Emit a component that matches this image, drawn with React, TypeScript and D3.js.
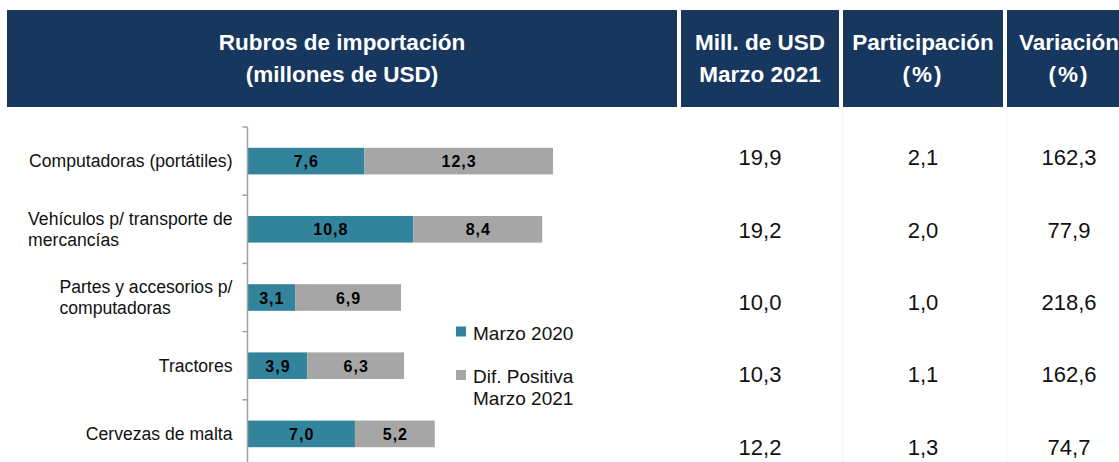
import React, { useEffect, useRef } from "react";
import * as d3 from "d3";

const categories: string[][] = [
  ["Computadoras (portátiles)"],
  ["Vehículos p/ transporte de", "mercancías"],
  ["Partes y accesorios p/", "computadoras"],
  ["Tractores"],
  ["Cervezas de malta"],
];
const marzo2020 = [7.6, 10.8, 3.1, 3.9, 7.0];
const difPositiva = [12.3, 8.4, 6.9, 6.3, 5.2];
const millUSD = [19.9, 19.2, 10.0, 10.3, 12.2];
const participacion = [2.1, 2.0, 1.0, 1.1, 1.3];
const variacion = [162.3, 77.9, 218.6, 162.6, 74.7];

const seriesNames = ["Marzo 2020", "Dif. Positiva\nMarzo 2021"];
const headerMain = ["Rubros de importación", "(millones de USD)"];
const headerCols = [
  ["Mill. de USD", "Marzo 2021"],
  ["Participación", "(%)"],
  ["Variación", "(%)"],
];

const W = 1119;
const H = 462;
const FONT = "'Liberation Sans', Arial, Helvetica, sans-serif";
const NAVY = "#17375E";
const TEAL = "#31849B";
const GRAY = "#A6A6A6";

export default function App() {
  const ref = useRef<SVGSVGElement | null>(null);

  useEffect(() => {
    const svg = d3.select(ref.current);
    svg.selectAll("*").remove();

    const locale = d3.formatLocale({
      decimal: ",",
      thousands: ".",
      grouping: [3],
      currency: ["", ""],
    });
    const fmt = locale.format(".1f");

    // ---------- header ----------
    const headerTop = 10;
    const headerBottom = 107;
    const colEdges = [7, 677, 681, 839, 843, 1003, 1007, 1131];
    const blocks = [
      { x0: colEdges[0], x1: colEdges[1], lines: headerMain },
      { x0: colEdges[2], x1: colEdges[3], lines: headerCols[0] },
      { x0: colEdges[4], x1: colEdges[5], lines: headerCols[1] },
      { x0: colEdges[6], x1: colEdges[7], lines: headerCols[2] },
    ];
    const hdr = svg.append("g");
    blocks.forEach((b) => {
      hdr
        .append("rect")
        .attr("x", b.x0)
        .attr("y", headerTop)
        .attr("width", b.x1 - b.x0)
        .attr("height", headerBottom - headerTop)
        .attr("fill", NAVY);
      b.lines.forEach((ln, i) => {
        hdr
          .append("text")
          .attr("x", (b.x0 + b.x1) / 2)
          .attr("y", 50 + i * 32)
          .attr("text-anchor", "middle")
          .attr("fill", "#ffffff")
          .attr("font-family", FONT)
          .attr("font-weight", "bold")
          .attr("font-size", 22.5)
          .attr("letter-spacing", ln === "(%)" ? 2 : 0)
          .text(ln);
      });
    });

    // ---------- table values ----------
    const rowScale = d3
      .scaleBand<number>()
      .domain(d3.range(categories.length))
      .range([121, 483]);
    const colCenters = [760, 923, 1069];
    const tableCols = [millUSD, participacion, variacion];

    const grid = svg.append("g");
    [colEdges[4], colEdges[6]].forEach((x) => {
      grid
        .append("line")
        .attr("x1", x)
        .attr("x2", x)
        .attr("y1", headerBottom + 4)
        .attr("y2", H)
        .attr("stroke", "#f5f5f5")
        .attr("stroke-width", 1);
    });

    const tbl = svg.append("g");
    tableCols.forEach((col, ci) => {
      col.forEach((v, ri) => {
        tbl
          .append("text")
          .attr("x", colCenters[ci])
          .attr("y", (rowScale(ri) as number) + rowScale.bandwidth() / 2 + 8)
          .attr("text-anchor", "middle")
          .attr("fill", "#111111")
          .attr("font-family", FONT)
          .attr("font-size", 22)
          .text(fmt(v));
      });
    });

    // ---------- bar chart ----------
    const x = d3.scaleLinear().domain([0, 25]).range([247.5, 247.5 + 25 * 15.35]);
    const y = d3
      .scaleBand<number>()
      .domain(d3.range(categories.length))
      .range([127, 468])
      .paddingInner(0)
      .paddingOuter(0);
    const step = y.step();
    const barH = step * 0.39;

    const chart = svg.append("g");

    const stacked = categories.map((_, i) => [
      { x0: 0, x1: marzo2020[i], v: marzo2020[i], color: TEAL },
      {
        x0: marzo2020[i],
        x1: marzo2020[i] + difPositiva[i],
        v: difPositiva[i],
        color: GRAY,
      },
    ]);

    stacked.forEach((segs, i) => {
      const by = (y(i) as number) + (step - barH) / 2;
      segs.forEach((s) => {
        chart
          .append("rect")
          .attr("x", x(s.x0))
          .attr("y", by)
          .attr("width", x(s.x1) - x(s.x0))
          .attr("height", barH)
          .attr("fill", s.color);
        chart
          .append("text")
          .attr("x", (x(s.x0) + x(s.x1)) / 2 + 0.5)
          .attr("y", by + barH / 2 + 6)
          .attr("text-anchor", "middle")
          .attr("fill", "#000000")
          .attr("font-family", FONT)
          .attr("font-weight", "bold")
          .attr("font-size", 16)
          .attr("letter-spacing", 1)
          .text(fmt(s.v));
      });
    });

    // axis
    const axisG = chart.append("g");
    axisG
      .append("line")
      .attr("x1", x(0))
      .attr("x2", x(0))
      .attr("y1", y(0) as number)
      .attr("y2", H)
      .attr("stroke", "#a0a0a0")
      .attr("stroke-width", 1.5);
    d3.range(categories.length + 1).forEach((i) => {
      const ty = (y.range()[0] as number) + i * step;
      axisG
        .append("line")
        .attr("x1", x(0) - 5)
        .attr("x2", x(0))
        .attr("y1", ty)
        .attr("y2", ty)
        .attr("stroke", "#a0a0a0")
        .attr("stroke-width", 1.5);
    });

    // category labels (block right-aligned, lines left-aligned)
    const labelRight = x(0) - 15;
    const lineH = 21;
    categories.forEach((lines, i) => {
      const cy = (y(i) as number) + step / 2;
      const t = chart
        .append("text")
        .attr("font-family", FONT)
        .attr("font-size", 17.6)
        .attr("fill", "#111111");
      const tspans = lines.map((ln, li) =>
        t
          .append("tspan")
          .attr("x", labelRight)
          .attr("y", cy + 6 + (li - (lines.length - 1) / 2) * lineH)
          .attr("text-anchor", "end")
          .text(ln)
      );
      const widths = tspans.map((ts) =>
        (ts.node() as SVGTSpanElement).getComputedTextLength()
      );
      const maxW = d3.max(widths) || 0;
      tspans.forEach((ts) =>
        ts.attr("text-anchor", "start").attr("x", labelRight - maxW)
      );
    });

    // legend
    const legend = svg.append("g");
    const legendItems = [
      { name: seriesNames[0], color: TEAL, cy: 331.5 },
      { name: seriesNames[1], color: GRAY, cy: 375 },
    ];
    legendItems.forEach((it) => {
      legend
        .append("rect")
        .attr("x", 456)
        .attr("y", it.cy - 5)
        .attr("width", 10)
        .attr("height", 10)
        .attr("fill", it.color);
      const t = legend
        .append("text")
        .attr("font-family", FONT)
        .attr("font-size", 19)
        .attr("fill", "#111111");
      it.name.split("\n").forEach((ln, li) => {
        t.append("tspan")
          .attr("x", 473)
          .attr("y", it.cy + 6.5 + 1.5 + li * 22)
          .text(ln);
      });
    });
  }, []);

  return (
    <svg
      ref={ref}
      width={W}
      height={H}
      style={{ position: "absolute", left: 0, top: 0, background: "#ffffff" }}
    />
  );
}
